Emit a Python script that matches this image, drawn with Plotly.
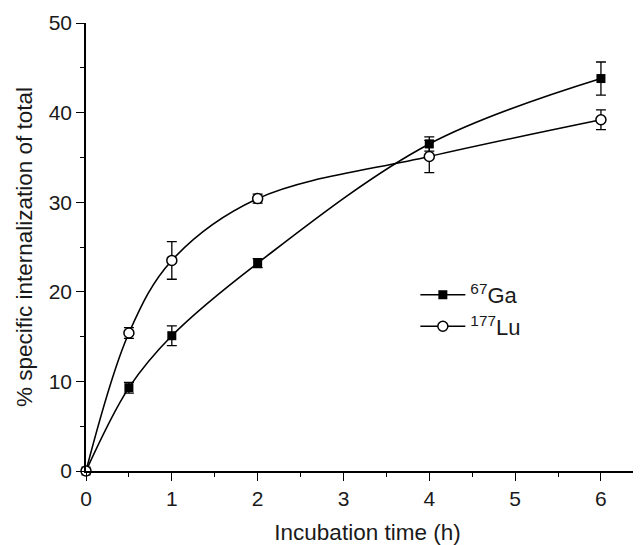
import plotly.graph_objects as go

time_h = [0, 0.5, 1, 2, 4, 6]
ga_values = [0, 9.3, 15.1, 23.2, 36.5, 43.8]
ga_errors = [0, 0.6, 1.1, 0.5, 0.8, 1.85]
lu_values = [0, 15.4, 23.5, 30.4, 35.1, 39.2]
lu_errors = [0, 0.6, 2.1, 0.5, 1.8, 1.1]
ga_name = "<sup>67</sup>Ga"
lu_name = "<sup>177</sup>Lu"
x_ticks = [0, 1, 2, 3, 4, 5, 6]
y_ticks = [0, 10, 20, 30, 40, 50]

font_family = "Liberation Sans, Arial, Helvetica, sans-serif"
text_color = "#1a1a1a"

fig = go.Figure()
fig.add_trace(go.Scatter(
    x=time_h, y=ga_values, name=ga_name, mode="lines+markers",
    line=dict(color="black", width=1.6, shape="spline", smoothing=1.0),
    marker=dict(symbol="square", size=9, color="black"),
    error_y=dict(type="data", array=ga_errors, color="black", thickness=1.3, width=5),
    cliponaxis=False,
))
fig.add_trace(go.Scatter(
    x=time_h, y=lu_values, name=lu_name, mode="lines+markers",
    line=dict(color="black", width=1.6, shape="spline", smoothing=1.0),
    marker=dict(symbol="circle", size=10, color="white", line=dict(color="black", width=1.5)),
    error_y=dict(type="data", array=lu_errors, color="black", thickness=1.3, width=5),
    cliponaxis=False,
))

axis_common = dict(
    showgrid=False, zeroline=False, showline=True, linecolor="black", linewidth=1.5,
    ticks="outside", ticklen=8, tickwidth=1.3, tickcolor="black",
    tickfont=dict(size=21, color=text_color, family=font_family),
)
fig.update_xaxes(
    range=[0, 6.56], tickvals=x_ticks,
    minor=dict(dtick=0.5, ticks="outside", ticklen=4, tickwidth=1.2, tickcolor="black", showgrid=False),
    title=dict(text="Incubation time (h)", font=dict(size=22.5, color=text_color, family=font_family), standoff=15),
    **axis_common,
)
fig.update_yaxes(
    range=[0, 50], tickvals=y_ticks,
    minor=dict(dtick=5, ticks="outside", ticklen=4, tickwidth=1.2, tickcolor="black", showgrid=False),
    title=dict(text="% specific internalization of total", font=dict(size=22.5, color=text_color, family=font_family), standoff=10),
    **axis_common,
)
fig.update_layout(
    width=641, height=545,
    margin=dict(l=78, r=0, t=15, b=82),
    plot_bgcolor="white", paper_bgcolor="white",
    legend=dict(x=0.585, y=0.44, xanchor="left", yanchor="top", itemwidth=45,
                font=dict(size=22, color=text_color, family=font_family),
                bgcolor="rgba(0,0,0,0)"),
)
fig.write_html("out.html")
